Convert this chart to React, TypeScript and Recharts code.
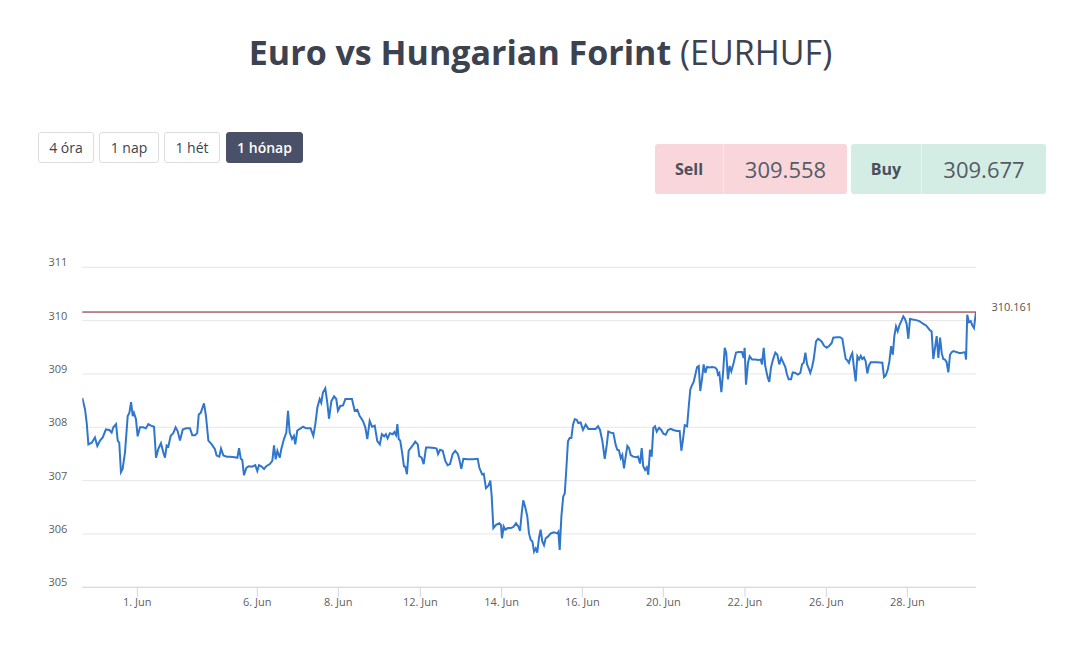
import React from "react";
import { LineChart, Line, XAxis, YAxis, CartesianGrid, ReferenceLine } from "recharts";

// EUR/HUF rate readings: [trading hours since start of window, rate]
const week1: [number, number][] = [
  [0, 308.55], [1.6, 308.34], [2.6, 308.09], [3.6, 307.68], [5.6, 307.71], [7.5, 307.81], [8.9, 307.65], [10.5, 307.75],
  [12.1, 307.81], [14.0, 307.96], [16.0, 307.95], [17.4, 307.9], [18.4, 308.0], [20.0, 308.06], [21.0, 307.75], [21.9, 307.71],
  [22.9, 307.16], [23.9, 307.22], [25.3, 307.53], [26.9, 308.21], [27.9, 308.27], [28.9, 308.47], [29.9, 308.21], [30.6, 308.27],
  [31.8, 308.15], [32.8, 307.83], [34.2, 308.0], [36.1, 308.0], [37.7, 307.98], [39.1, 308.06], [40.7, 308.03], [42.5, 308.01],
  [43.7, 307.43], [45.0, 307.59], [46.6, 307.7], [48.0, 307.53], [49.0, 307.43], [50.0, 307.66], [51.0, 307.64], [52.4, 307.84],
  [53.9, 307.89], [55.3, 308.0], [56.5, 307.93], [57.9, 307.75], [59.5, 307.96], [61.5, 307.98], [63.8, 307.98], [65.2, 307.85],
  [66.8, 307.85], [68.1, 307.89], [69.0, 308.24], [70.2, 308.27], [72.1, 308.45], [73.3, 308.21], [74.7, 307.75], [76.7, 307.68],
  [78.6, 307.59], [79.6, 307.47], [81.2, 307.45], [82.2, 307.6], [83.6, 307.47], [85.6, 307.45], [87.5, 307.45],
];
const week2: [number, number][] = [
  [90.3, 307.44], [91.9, 307.43], [92.9, 307.61], [93.9, 307.41], [94.8, 307.39], [95.8, 307.1], [97.2, 307.24], [98.6, 307.27],
  [100.6, 307.26], [102.5, 307.29], [103.7, 307.18], [104.7, 307.29], [106.1, 307.27], [107.7, 307.22], [109.0, 307.27], [111.1, 307.31],
  [112.6, 307.37], [113.6, 307.66], [114.6, 307.4], [115.6, 307.56], [117.0, 307.43], [117.9, 307.59], [119.5, 307.78], [120.9, 307.9],
  [121.9, 308.31], [122.9, 307.9], [124.3, 307.78], [125.4, 307.84], [126.2, 307.68], [127.4, 307.94], [129.4, 307.98], [130.8, 308.01],
  [132.7, 307.98], [135.3, 307.98], [136.9, 307.84], [138.1, 308.06], [139.3, 308.37], [140.7, 308.53], [141.6, 308.46], [142.6, 308.65],
  [144.0, 308.73], [145.2, 308.46], [146.2, 308.16], [147.6, 308.49], [149.2, 308.58], [150.5, 308.53], [151.5, 308.31], [152.9, 308.4],
  [154.5, 308.41], [155.9, 308.53], [157.5, 308.53], [159.8, 308.53], [161.4, 308.31], [163.0, 308.33], [164.4, 308.21], [166.3, 308.12],
  [167.7, 308.0], [168.9, 307.78], [170.3, 308.12], [171.7, 308.01], [173.3, 308.03], [174.8, 307.74],
];
const week3: [number, number][] = [
  [176.3, 307.68], [177.5, 307.87], [178.9, 307.83], [179.9, 307.87], [180.9, 307.79], [182.3, 307.89], [183.9, 307.87], [184.9, 307.91],
  [185.9, 307.85], [186.7, 308.06], [187.5, 307.78], [188.4, 307.75], [189.5, 307.53], [190.6, 307.27], [191.4, 307.26], [192.4, 307.12],
  [193.4, 307.56], [194.8, 307.62], [196.2, 307.68], [197.3, 307.73], [198.8, 307.68], [199.7, 307.46], [201.1, 307.43], [202.3, 307.31],
  [203.7, 307.62], [205.6, 307.62], [208.6, 307.61], [210.0, 307.6], [210.8, 307.5], [212.0, 307.58], [213.6, 307.56], [215.1, 307.37],
  [216.5, 307.29], [217.9, 307.31], [219.5, 307.5], [221.0, 307.56], [222.5, 307.5], [223.4, 307.4], [224.6, 307.22], [225.8, 307.41],
  [228.4, 307.4], [231.4, 307.4], [234.3, 307.41], [235.3, 307.24], [236.9, 307.12], [237.9, 307.13], [239.2, 306.86], [240.8, 306.91],
  [241.8, 307.0], [242.6, 306.71], [243.6, 306.11], [245.2, 306.17], [247.1, 306.2], [248.1, 306.17], [248.7, 305.92], [249.7, 306.14],
  [250.7, 306.08], [252.1, 306.11], [254.0, 306.11], [255.4, 306.13], [257.0, 306.2], [258.4, 306.14], [259.4, 306.06], [260.4, 306.39],
  [261.3, 306.63], [262.5, 306.5],
];
const week4: [number, number][] = [
  [263.7, 306.33], [264.7, 306.01], [265.7, 305.89], [266.7, 305.86], [267.7, 305.67], [268.7, 305.73], [269.6, 305.65], [270.6, 305.92],
  [271.6, 306.08], [272.6, 305.86], [273.6, 305.79], [274.6, 305.92], [275.9, 305.95], [277.6, 306.01], [279.5, 306.03], [281.5, 306.01],
  [282.1, 306.04], [282.9, 305.7], [283.9, 306.33], [285.0, 306.7], [285.9, 306.76], [286.8, 307.2], [287.8, 307.74], [288.8, 307.8],
  [289.8, 307.8], [290.8, 308.05], [291.8, 308.15], [293.0, 308.14], [293.9, 308.08], [295.3, 308.09], [296.7, 307.95], [298.3, 308.05],
  [299.9, 307.97], [302.2, 307.97], [304.2, 307.97], [305.6, 308.02], [306.8, 307.95], [308.2, 307.74], [309.6, 307.41], [310.8, 307.67],
  [311.7, 307.92], [313.1, 307.9], [314.7, 307.89], [316.1, 307.67], [317.0, 307.58], [318.0, 307.57], [319.1, 307.42], [320.0, 307.48],
  [321.0, 307.23], [322.0, 307.45], [323.0, 307.65], [324.0, 307.61], [325.0, 307.48], [326.5, 307.45], [328.3, 307.44], [329.3, 307.45],
  [330.5, 307.32], [331.5, 307.61], [332.4, 307.27], [333.5, 307.2], [334.5, 307.25], [335.4, 307.11], [336.4, 307.58], [337.4, 307.45],
  [338.4, 307.99], [339.4, 308.02], [340.4, 307.92], [341.8, 307.99], [343.1, 307.95], [344.3, 307.88], [345.7, 307.86], [347.1, 307.95],
  [348.7, 307.97], [350.2, 307.95], [352.4, 307.93], [354.0, 307.93], [355.0, 307.56], [356.0, 307.78], [357.0, 308.04], [358.4, 308.02],
];
const week5: [number, number][] = [
  [359.4, 308.4], [360.3, 308.71], [361.3, 308.79], [362.3, 308.85], [363.3, 308.99], [364.3, 309.13], [365.3, 309.15], [366.2, 308.68],
  [367.2, 308.9], [368.2, 309.18], [369.2, 309.02], [370.2, 309.13], [371.6, 309.12], [373.2, 309.13], [375.1, 309.12], [376.1, 309.08],
  [376.7, 308.99], [377.5, 309.02], [378.7, 308.66], [379.7, 309.02], [380.7, 309.49], [381.6, 309.4], [382.6, 308.9], [383.6, 309.15],
  [384.6, 309.05], [386.0, 309.21], [387.4, 309.4], [389.0, 309.41], [390.9, 309.41], [391.9, 309.3], [392.5, 309.49], [393.3, 308.8],
  [394.5, 309.21], [395.5, 309.33], [396.9, 309.27], [398.8, 309.27], [400.8, 309.26], [402.0, 309.27], [402.8, 309.18], [403.8, 309.49],
  [404.7, 309.15], [406.2, 308.93], [407.1, 308.85], [408.1, 309.12], [409.3, 309.27], [410.7, 309.4], [411.9, 309.36], [413.0, 309.18],
  [414.2, 309.3], [415.6, 309.2], [416.6, 309.13], [417.6, 308.99], [418.6, 308.9], [420.0, 308.9], [421.0, 309.03], [422.5, 309.02],
  [424.1, 308.99], [425.5, 309.02], [426.5, 309.18], [427.5, 309.21], [428.5, 309.4], [429.5, 309.18], [430.5, 309.1], [431.4, 309.02],
  [432.4, 309.12], [433.4, 309.27], [434.8, 309.61], [436.0, 309.66], [437.0, 309.64],
];
const week6: [number, number][] = [
  [438.3, 309.6], [439.5, 309.53], [441.1, 309.49], [442.7, 309.53], [444.1, 309.58], [445.0, 309.68], [447.1, 309.69], [449.0, 309.69],
  [450.4, 309.66], [451.4, 309.46], [452.4, 309.28], [453.3, 309.26], [454.3, 309.21], [455.4, 309.33], [456.3, 309.39], [457.3, 309.11],
  [458.3, 308.86], [459.3, 309.33], [460.3, 309.27], [461.3, 309.34], [462.2, 309.28], [463.2, 309.31], [464.2, 309.24], [465.2, 309.01],
  [466.2, 309.16], [467.2, 309.22], [470.8, 309.22], [474.1, 309.21], [475.1, 308.94], [476.1, 308.97], [477.3, 309.08], [478.3, 309.24],
  [479.3, 309.52], [480.3, 309.36], [481.2, 309.71], [482.2, 309.89], [483.2, 309.8], [484.2, 309.91], [485.6, 310.01], [486.5, 310.08],
  [487.5, 310.03], [488.5, 309.94], [489.5, 309.66], [490.5, 310.03], [492.1, 310.02], [494.1, 310.01], [496.0, 309.99], [497.4, 309.96],
  [498.4, 309.94], [500.0, 309.91], [501.3, 309.86], [502.3, 309.82], [503.3, 309.8], [504.3, 309.28], [505.3, 309.49], [506.3, 309.71],
  [507.3, 309.3], [508.3, 309.68], [509.3, 309.39], [510.2, 309.28], [511.2, 309.27], [512.2, 309.22], [513.2, 309.03], [514.2, 309.36],
  [515.2, 309.41], [516.2, 309.43], [520.1, 309.39], [523.1, 309.41], [523.7, 309.27], [524.4, 310.11], [525.4, 309.97], [526.5, 309.99],
  [527.4, 309.91], [528.4, 309.86], [529.0, 310.02], [529.6, 310.16],
];

const xDomain: [number, number] = [0, 529.6];
const xTickHours = [32.6, 103.7, 151.7, 200.3, 248.5, 296.3, 344.3, 392.7, 440.9, 488.9];
const xTickLabels = ["1. Jun", "6. Jun", "8. Jun", "12. Jun", "14. Jun", "16. Jun", "20. Jun", "22. Jun", "26. Jun", "28. Jun"];
const yTicks = [305, 306, 307, 308, 309, 310, 311];
const lastPrice = 310.161;
const rangeButtons = ["4 óra", "1 nap", "1 hét", "1 hónap"];
const activeButton = "1 hónap";
const sellPrice = "309.558";
const buyPrice = "309.677";

const data = [...week1, ...week2, ...week3, ...week4, ...week5, ...week6].map(([t, rate]) => ({ t, rate }));

const FONT = '"Open Sans", "DejaVu Sans", sans-serif';
const TEXT = "#3c4250";

const YTick = (props: any) => {
  const { x, y, payload } = props;
  return (
    <text x={x} y={y} dy={-1} textAnchor="end" fill="#606060" fontSize={11} fontFamily={FONT}>
      {payload.value}
    </text>
  );
};

const PriceLabel = (props: any) => {
  const vb = props.viewBox || {};
  return (
    <text x={vb.x + vb.width + 15.5} y={vb.y - 1.3} fill="#555555" fontSize={11} fontFamily={FONT}>
      {lastPrice}
    </text>
  );
};

const buttonWidths = [56, 60, 56, 77];
const buttonLefts = [38, 99, 164, 226];

export default function App() {
  return (
    <div style={{ position: "absolute", left: 0, top: 0, width: 1069, height: 665, background: "#ffffff", fontFamily: FONT, color: TEXT, overflow: "hidden" }}>
      <div style={{ position: "absolute", left: 6, top: 29, width: 1069, textAlign: "center", fontSize: 34, lineHeight: "normal", whiteSpace: "nowrap" }}>
        <span style={{ fontWeight: 700 }}>Euro vs Hungarian Forint</span>
        <span style={{ fontWeight: 400 }}> (EURHUF)</span>
      </div>

      {rangeButtons.map((b, i) => {
        const active = b === activeButton;
        return (
          <div
            key={b}
            style={{
              position: "absolute",
              left: buttonLefts[i],
              top: 132,
              width: buttonWidths[i],
              height: 31,
              boxSizing: "border-box",
              border: active ? "1px solid #4a5068" : "1px solid #dcdde0",
              borderRadius: 3,
              background: active ? "#4a5068" : "#ffffff",
              color: active ? "#ffffff" : TEXT,
              fontSize: 14,
              fontWeight: active ? 600 : 400,
              display: "flex",
              alignItems: "center",
              justifyContent: "center",
              whiteSpace: "nowrap",
            }}
          >
            {b}
          </div>
        );
      })}

      <div style={{ position: "absolute", left: 655, top: 144, width: 192, height: 50, background: "#f8d6da", borderRadius: 3, display: "flex" }}>
        <div style={{ width: 68, borderRight: "1px solid #fbe6e8", display: "flex", alignItems: "center", justifyContent: "center", fontWeight: 700, fontSize: 16, color: "#4a4f5c" }}>Sell</div>
        <div style={{ flex: 1, display: "flex", alignItems: "center", justifyContent: "center", fontSize: 22, color: "#555b66" }}>{sellPrice}</div>
      </div>
      <div style={{ position: "absolute", left: 851, top: 144, width: 195, height: 50, background: "#d3ede5", borderRadius: 3, display: "flex" }}>
        <div style={{ width: 70, borderRight: "1px solid #e6f5f0", display: "flex", alignItems: "center", justifyContent: "center", fontWeight: 700, fontSize: 16, color: "#4a4f5c" }}>Buy</div>
        <div style={{ flex: 1, display: "flex", alignItems: "center", justifyContent: "center", fontSize: 22, color: "#555b66" }}>{buyPrice}</div>
      </div>

      <div style={{ position: "absolute", left: 0, top: 0 }}>
        <LineChart width={1069} height={665} data={data} margin={{ top: 267.3, right: 93, bottom: 47.7, left: 22.3 }}>
          <CartesianGrid vertical={false} stroke="#e6e6e6" />
          <XAxis
            dataKey="t"
            type="number"
            domain={xDomain}
            ticks={xTickHours}
            tickFormatter={(v: number) => xTickLabels[xTickHours.indexOf(v)] ?? ""}
            height={30}
            tickSize={10}
            tickMargin={1}
            axisLine={{ stroke: "#ccd6eb" }}
            tickLine={{ stroke: "#ccd6eb" }}
            tick={{ fill: "#606060", fontSize: 11, fontFamily: FONT }}
            interval={0}
            allowDataOverflow
          />
          <YAxis
            type="number"
            domain={[305, 311]}
            ticks={yTicks}
            width={60}
            tickSize={0}
            tickMargin={15}
            axisLine={false}
            tickLine={false}
            tick={<YTick />}
            interval={0}
            allowDataOverflow
          />
          <ReferenceLine y={lastPrice} stroke="#7a1424" strokeWidth={1} label={<PriceLabel />} ifOverflow="visible" />
          <Line type="linear" dataKey="rate" stroke="#2f76cc" strokeWidth={2} dot={false} activeDot={false} isAnimationActive={false} />
        </LineChart>
      </div>
    </div>
  );
}
